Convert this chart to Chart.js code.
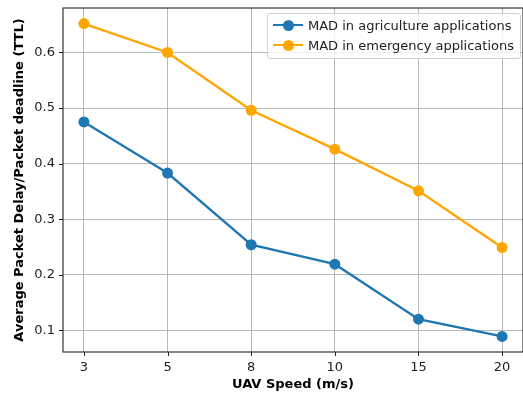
<!DOCTYPE html>
<html>
<head>
<meta charset="utf-8">
<script src="https://cdn.jsdelivr.net/npm/chart.js@4"></script>
<style>
    html, body { margin: 0; padding: 0; background: #fff; overflow: hidden; }
    #wrap { position: relative; width: 523px; height: 395px; overflow: hidden; }
    #chart { display: block; }
    #legend {
        position: absolute; left: 267px; top: 13px;
        background: rgba(255,255,255,0.8); border: 1px solid #d0d0d0; border-radius: 3px;
        padding: 1px 6px 3px 5px; font-family: "DejaVu Sans", sans-serif; font-size: 13px; color: #222;
    }
    .lg-row { display: flex; align-items: center; height: 20px; }
    .lg-sw { position: relative; width: 30px; height: 20px; margin-right: 5px; }
    .lg-line { position: absolute; left: 0; right: 0; top: 9px; height: 2.3px; }
    .lg-dot { position: absolute; left: 9.5px; top: 4.5px; width: 11px; height: 11px; border-radius: 50%; }
</style>
</head>
<body>
<div id="wrap">
    <canvas id="chart" width="523" height="395"></canvas>
    <div id="legend"></div>
</div>
<script>
(function () {
    var speeds = ['3', '5', '8', '10', '15', '20'];
    var agriculture = [0.475, 0.383, 0.254, 0.219, 0.120, 0.089];
    var emergency = [0.652, 0.600, 0.496, 0.426, 0.351, 0.249];
    var yTicks = [0.1, 0.2, 0.3, 0.4, 0.5, 0.6];

    var seriesNames = ['MAD in agriculture applications', 'MAD in emergency applications'];
    var seriesColors = ['#1f77b4', '#ffa500'];

    function toPoints(values) {
        return values.map(function (v, i) { return { x: i, y: v }; });
    }

    var FONT = '"DejaVu Sans", sans-serif';

    // frame + black outward tick marks, matplotlib style
    var framePlugin = {
        id: 'frame',
        afterDraw: function (chart) {
            var ctx = chart.ctx;
            var a = chart.chartArea;
            var xs = chart.scales.x, ys = chart.scales.y;
            ctx.save();
            ctx.strokeStyle = '#222';
            ctx.lineWidth = 1;
            ctx.beginPath();
            speeds.forEach(function (s, i) {
                var px = Math.round(xs.getPixelForValue(i)) + 0.5;
                ctx.moveTo(px, a.bottom);
                ctx.lineTo(px, a.bottom + 4);
            });
            yTicks.forEach(function (t) {
                var py = Math.round(ys.getPixelForValue(t)) + 0.5;
                ctx.moveTo(a.left, py);
                ctx.lineTo(a.left - 4, py);
            });
            ctx.stroke();
            ctx.lineWidth = 1.1;
            ctx.strokeRect(a.left, a.top, a.right - a.left, a.bottom - a.top);
            ctx.restore();
        }
    };

    var datasets = [agriculture, emergency].map(function (vals, k) {
        return {
            label: seriesNames[k],
            data: toPoints(vals),
            borderColor: seriesColors[k],
            backgroundColor: seriesColors[k],
            borderWidth: 2.3,
            pointRadius: 5.5,
            pointHoverRadius: 5.5,
            pointBorderWidth: 0,
            tension: 0
        };
    });

    new Chart(document.getElementById('chart'), {
        type: 'line',
        data: { datasets: datasets },
        options: {
            responsive: false,
            animation: false,
            // the source figure is cropped just inside its right spine
            layout: { autoPadding: false, padding: { top: 8, right: -3, left: 0, bottom: 0 } },
            plugins: { legend: { display: false }, tooltip: { enabled: false } },
            scales: {
                x: {
                    type: 'linear',
                    min: -0.25,
                    max: 5.25,
                    afterBuildTicks: function (scale) {
                        scale.ticks = speeds.map(function (s, i) { return { value: i }; });
                    },
                    afterFit: function (scale) {
                        scale.height = 43;
                        scale.paddingLeft = 0;
                        scale.paddingRight = 0;
                    },
                    ticks: {
                        callback: function (v) { return speeds[v]; },
                        color: '#222', font: { family: FONT, size: 13 }, padding: 8, maxRotation: 0
                    },
                    grid: { color: '#b0b0b0', lineWidth: 0.9, drawTicks: false },
                    border: { display: false },
                    title: {
                        display: true, text: 'UAV Speed (m/s)', color: '#000',
                        font: { family: FONT, size: 13, weight: 'bold' }, padding: { top: 2, bottom: 3 }
                    }
                },
                y: {
                    type: 'linear',
                    min: 0.061,
                    max: 0.680,
                    afterBuildTicks: function (scale) {
                        scale.ticks = yTicks.map(function (t) { return { value: t }; });
                    },
                    afterFit: function (scale) {
                        scale.width = 63;
                        scale.paddingTop = 0;
                        scale.paddingBottom = 0;
                    },
                    ticks: {
                        callback: function (v) { return v.toFixed(1); },
                        color: '#222', font: { family: FONT, size: 13 }, padding: 8
                    },
                    grid: { color: '#b0b0b0', lineWidth: 0.9, drawTicks: false },
                    border: { display: false },
                    title: {
                        display: true, text: 'Average Packet Delay/Packet deadline (TTL)', color: '#000',
                        font: { family: FONT, size: 13, weight: 'bold' }, padding: { top: 12, bottom: 0 }
                    }
                }
            }
        },
        plugins: [framePlugin]
    });

    // legend inside plot, upper right
    var legend = document.getElementById('legend');
    seriesNames.forEach(function (name, k) {
        var row = document.createElement('div');
        row.className = 'lg-row';
        row.innerHTML = '<div class="lg-sw"><div class="lg-line" style="background:' + seriesColors[k] +
            '"></div><div class="lg-dot" style="background:' + seriesColors[k] + '"></div></div><span>' +
            name + '</span>';
        legend.appendChild(row);
    });
})();
</script>
</body>
</html>
